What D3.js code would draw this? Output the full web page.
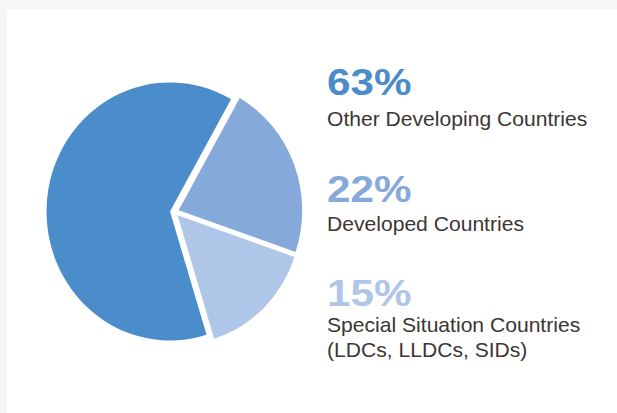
<!DOCTYPE html>
<html>
<head>
<meta charset="utf-8">
<script src="https://cdn.jsdelivr.net/npm/d3@7"></script>
<style>
  html, body { margin: 0; padding: 0; background: #f6f6f6; }
  svg { display: block; }
</style>
</head>
<body>
<svg id="chart" width="617" height="413"></svg>
<script>
// ---- data ----
const categories = ["Other Developing Countries", "Developed Countries", "Special Situation Countries"];
const labelLines = [["Other Developing Countries"], ["Developed Countries"], ["Special Situation Countries", "(LDCs, LLDCs, SIDs)"]];
const values = [63, 22, 15];
const valueLabels = ["63%", "22%", "15%"];
const colors = ["#4a8dca", "#85a9da", "#b0c6e8"];

const svg = d3.select("#chart");
const W = 617, H = 413;

// white panel with grey frame at top/left
svg.append("rect").attr("x", 0).attr("y", 0).attr("width", W).attr("height", H).attr("fill", "#f6f6f6");
svg.append("rect").attr("x", 7).attr("y", 9).attr("width", W - 7).attr("height", H - 9).attr("fill", "#ffffff");

// ---- pie ----
const cx = 174.5, cy = 212, r = 123.5, explode = 4.5;
const deg = Math.PI / 180;
const start = 162.8 * deg;
const pie = d3.pie().sort(null).value(d => d)
  .startAngle(start).endAngle(start + 2 * Math.PI);
const arc = d3.arc().innerRadius(0).outerRadius(r);
const arcs = pie(values);

const g = svg.append("g").attr("transform", `translate(${cx},${cy}) scale(1,1.045)`);
g.selectAll("path").data(arcs).join("path")
  .attr("d", arc)
  .attr("fill", (d, i) => colors[i])
  .attr("transform", d => {
    const a = (d.startAngle + d.endAngle) / 2;
    return `translate(${Math.sin(a) * explode},${-Math.cos(a) * explode})`;
  });

// ---- legend text ----
const textX = 327;
const pctBaselines = [94.7, 201.7, 306];
const labelBaselines = [126.3, 230.7, 331.5];
const lineGap = 25.8;

const legend = svg.append("g");
valueLabels.forEach((t, i) => {
  legend.append("text")
    .attr("transform", `translate(${textX},${pctBaselines[i]}) scale(1.14,1)`)
    .attr("font-family", "Liberation Sans, Arial, Helvetica, sans-serif")
    .attr("font-weight", "bold")
    .attr("font-size", 37)
    .attr("fill", colors[i])
    .text(t);
  labelLines[i].forEach((line, j) => {
    legend.append("text")
      .attr("transform", `translate(${textX},${labelBaselines[i] + j * lineGap}) scale(1.055,1)`)
      .attr("font-family", "Liberation Sans, Arial, Helvetica, sans-serif")
      .attr("font-size", 20)
      .attr("fill", "#3b3632")
      .text(line);
  });
});
</script>
</body>
</html>
